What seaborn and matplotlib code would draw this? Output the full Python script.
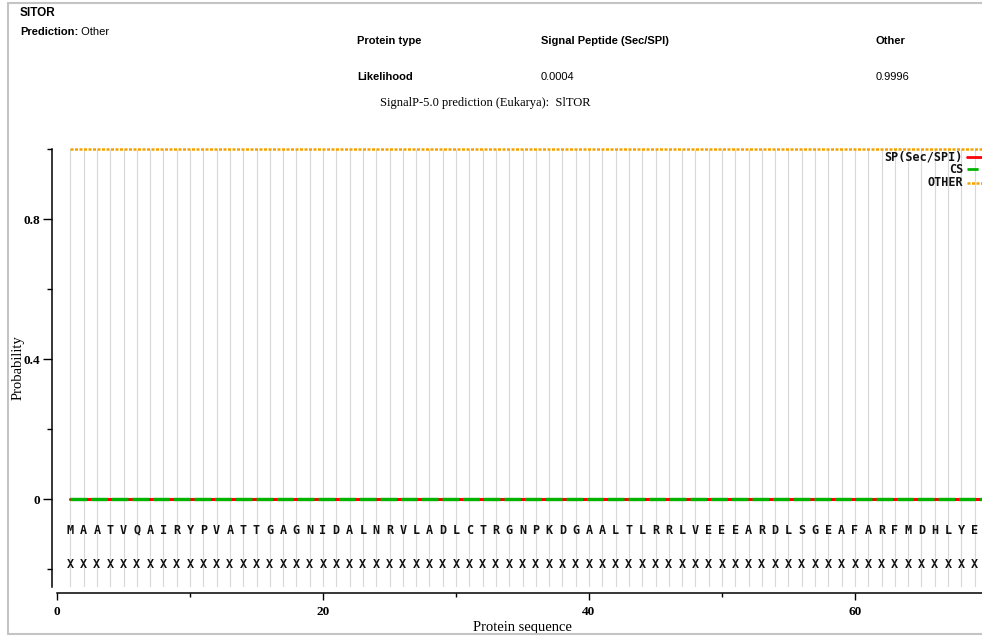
import matplotlib
matplotlib.use("Agg")
import matplotlib.pyplot as plt
from matplotlib.lines import Line2D
import pandas as pd
import seaborn as sns

# ---- data -------------------------------------------------------------
protein_name = "SlTOR"
prediction = "Other"
protein_types = ["Signal Peptide (Sec/SPI)", "Other"]
likelihoods = [0.0004, 0.9996]

sequence = list("MAATVQAIRYPVATTGAGNIDALNRVLADLCTRGNPKDGAALTLRRLVEEEARDLSGEAFARFMDHLYE")
marker_row = ["X"] * len(sequence)
positions = list(range(1, 71))
sp_prob = [0.0004] * 70
cs_prob = [0.0] * 70
other_prob = [0.9996] * 70

x_major = [0, 20, 40, 60]
x_minor = [10, 30, 50]
y_major = [0, 0.4, 0.8]
y_major_labels = ["0", "0.4", "0.8"]
y_minor = [-0.2, 0.2, 0.6, 1.0]

legend_names = ["SP(Sec/SPI)", "CS", "OTHER"]

# ---- style --------------------------------------------------------------
sns.set_theme(style="ticks")
plt.rcParams["font.family"] = ["Liberation Sans", "DejaVu Sans"]

W, H = 982, 636
fig = plt.figure(figsize=(W / 100, H / 100), dpi=100)
fig.patch.set_facecolor("white")

def fx(px):
    return px / W

def fy(py):
    return 1 - py / H

ax = fig.add_axes([fx(57), fy(586.5), 931 / W, 437.5 / H])
ax.set_facecolor("white")

RED = "#ff0000"
GREEN = "#00b400"
ORANGE = "#f5a200"
SERIF = ["Liberation Serif", "DejaVu Serif"]
MONO = ["DejaVu Sans Mono"]

df = pd.DataFrame({"pos": positions, "SP": sp_prob, "CS": cs_prob, "OTHER": other_prob})

# residue grid
ax.vlines(positions, -0.25, 1.0, color="#d8d8d8", lw=0.8, zorder=0)

sns.lineplot(data=df, x="pos", y="SP", ax=ax, color=RED, lw=2.2, zorder=3, clip_on=False)
sns.lineplot(data=df, x="pos", y="CS", ax=ax, color=GREEN, lw=2.4,
             linestyle=(0, (5, 1.2)), zorder=4, clip_on=False)
sns.lineplot(data=df, x="pos", y="OTHER", ax=ax, color=ORANGE, lw=1.8,
             linestyle=(0, (1.2, 0.6)), zorder=4, clip_on=False)

ax.set_xlim(0, 70)
ax.set_ylim(-0.25, 1.0)

# sequence rows
for p, aa, mk in zip(positions, sequence, marker_row):
    ax.text(p, -0.089, aa, ha="center", va="center", family=MONO,
            fontweight="bold", fontsize=8.5, color="#111111")
    ax.text(p, -0.186, mk, ha="center", va="center", family=MONO,
            fontweight="bold", fontsize=8.5, color="#111111")

# legend block (right-aligned labels with line samples)
legend_styles = [(RED, "-", 2.0), (GREEN, (0, (4, 1.5)), 2.0), (ORANGE, (0, (1.2, 0.6)), 1.8)]
legend_y = [0.977, 0.942, 0.903]
for name, (c, ls, lw), yy in zip(legend_names, legend_styles, legend_y):
    ax.text(68.12, yy, name, ha="right", va="center", family=MONO,
            fontweight="bold", fontsize=8.5, color="#111111")
    ax.plot([68.45, 70.5], [yy, yy], color=c, ls=ls, lw=lw, clip_on=False, zorder=5)

# axes
sns.despine(ax=ax, top=True, right=True, offset={"left": 3.6, "bottom": 5})
for s in ("left", "bottom"):
    ax.spines[s].set_color("black")
    ax.spines[s].set_linewidth(1.1)

ax.set_xticks(x_major)
ax.set_xticks(x_minor, minor=True)
ax.set_yticks(y_major)
ax.set_yticklabels(y_major_labels)
ax.set_yticks(y_minor, minor=True)
ax.tick_params(axis="both", which="both", direction="out", color="black",
               bottom=True, left=True, width=1.0)
ax.tick_params(axis="y", which="major", length=6.5, pad=2)
ax.tick_params(axis="y", which="minor", length=3.3)
ax.tick_params(axis="x", which="major", length=5, pad=4)
ax.tick_params(axis="x", which="minor", length=3)
for lab in ax.get_xticklabels() + ax.get_yticklabels():
    lab.set_fontfamily(SERIF)
    lab.set_fontweight("bold")
    lab.set_fontsize(9.5)
    lab.set_color("black")

ax.set_xlabel("Protein sequence", family=SERIF, fontsize=10.5, color="black")
ax.xaxis.set_label_coords(0.5, -0.078)
ax.set_ylabel("Probability", family=SERIF, fontsize=10.5, color="black")
ax.yaxis.set_label_coords(-0.035, 0.5)

# header
fig.text(fx(20), fy(13), protein_name, ha="left", va="center",
         fontsize=8.5, fontweight="bold", color="black")
t_pred = fig.text(fx(20), fy(32), "Prediction:", ha="left", va="center",
                  fontsize=8, fontweight="bold", color="black")
ax.annotate(" " + prediction, xy=(1, 0.5), xycoords=t_pred, ha="left", va="center",
            fontsize=8, color="black", annotation_clip=False)

col_x = [541, 876]
fig.text(fx(357), fy(41), "Protein type", ha="left", va="center",
         fontsize=8, fontweight="bold", color="black")
fig.text(fx(357), fy(77), "Likelihood", ha="left", va="center",
         fontsize=8, fontweight="bold", color="black")
for cx, ptype, lk in zip(col_x, protein_types, likelihoods):
    fig.text(fx(cx), fy(41), ptype, ha="left", va="center",
             fontsize=8, fontweight="bold", color="black")
    fig.text(fx(cx), fy(77), f"{lk:.4f}", ha="left", va="center",
             fontsize=8, color="black")

fig.text(fx(485), fy(103), f"SignalP-5.0 prediction (Eukarya):  {protein_name}",
         ha="center", va="center", family=SERIF, fontsize=9, color="black")

# page frame
frame_c = "#c4c4c4"
fig.add_artist(Line2D([fx(8), fx(8)], [fy(3), fy(634)], transform=fig.transFigure,
                      color=frame_c, lw=1.5))
fig.add_artist(Line2D([fx(8), 1], [fy(3), fy(3)], transform=fig.transFigure,
                      color=frame_c, lw=1.5))
fig.add_artist(Line2D([fx(8), 1], [fy(634), fy(634)], transform=fig.transFigure,
                      color=frame_c, lw=1.5))

fig.savefig("out.png", dpi=100, facecolor="white")
